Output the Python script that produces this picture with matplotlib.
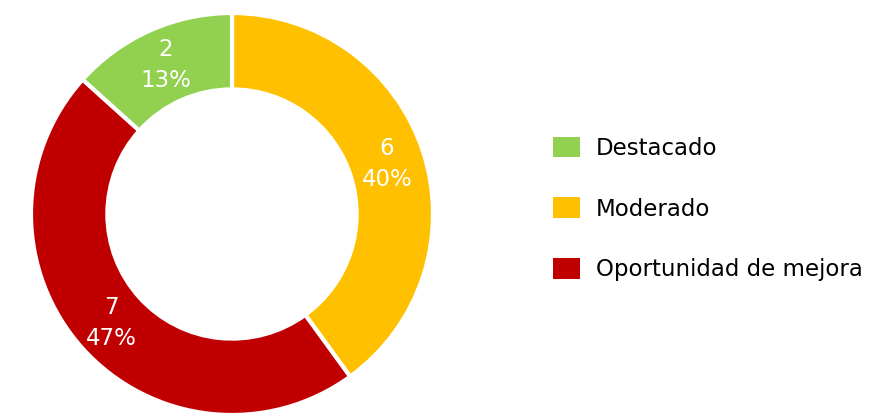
import matplotlib.pyplot as plt

labels = ['Moderado', 'Oportunidad de mejora', 'Destacado']
counts = [6, 7, 2]
colors = ['#FFC000', '#C00000', '#92D050']
legend_order = ['Destacado', 'Moderado', 'Oportunidad de mejora']

plt.rcParams['font.family'] = ['DejaVu Sans']

fig = plt.figure(figsize=(8.84, 4.15), dpi=100)
# pie axes placed so the ring sits on the left like the original
ax = fig.add_axes([(232 - 201) / 884, 0.0, 402 / 884, 402 / 415])

total = sum(counts)


def fmt(pct):
    n = int(round(pct * total / 100))
    return f'{n}\n{pct:.0f}%'


wedges, texts, autotexts = ax.pie(
    counts, colors=colors, startangle=90, counterclock=False,
    autopct=fmt, pctdistance=0.81,
    wedgeprops=dict(width=0.38, edgecolor='white', linewidth=3),
    textprops=dict(color='white', fontsize=16.5, linespacing=1.45))
ax.set_xlim(-1, 1)
ax.set_ylim(-1, 1)
ax.set_aspect('equal')

handles = [wedges[labels.index(l)] for l in legend_order]
leg = fig.legend(handles, legend_order, loc='center left',
                 bbox_to_anchor=(532 / 884, 1 - 209 / 415), frameon=False,
                 fontsize=16.5, handlelength=1.2, handleheight=1.0,
                 labelspacing=1.65, handletextpad=0.7)
for h in leg.legend_handles:
    h.set_edgecolor('none')

fig.savefig('out.png', dpi=100)
